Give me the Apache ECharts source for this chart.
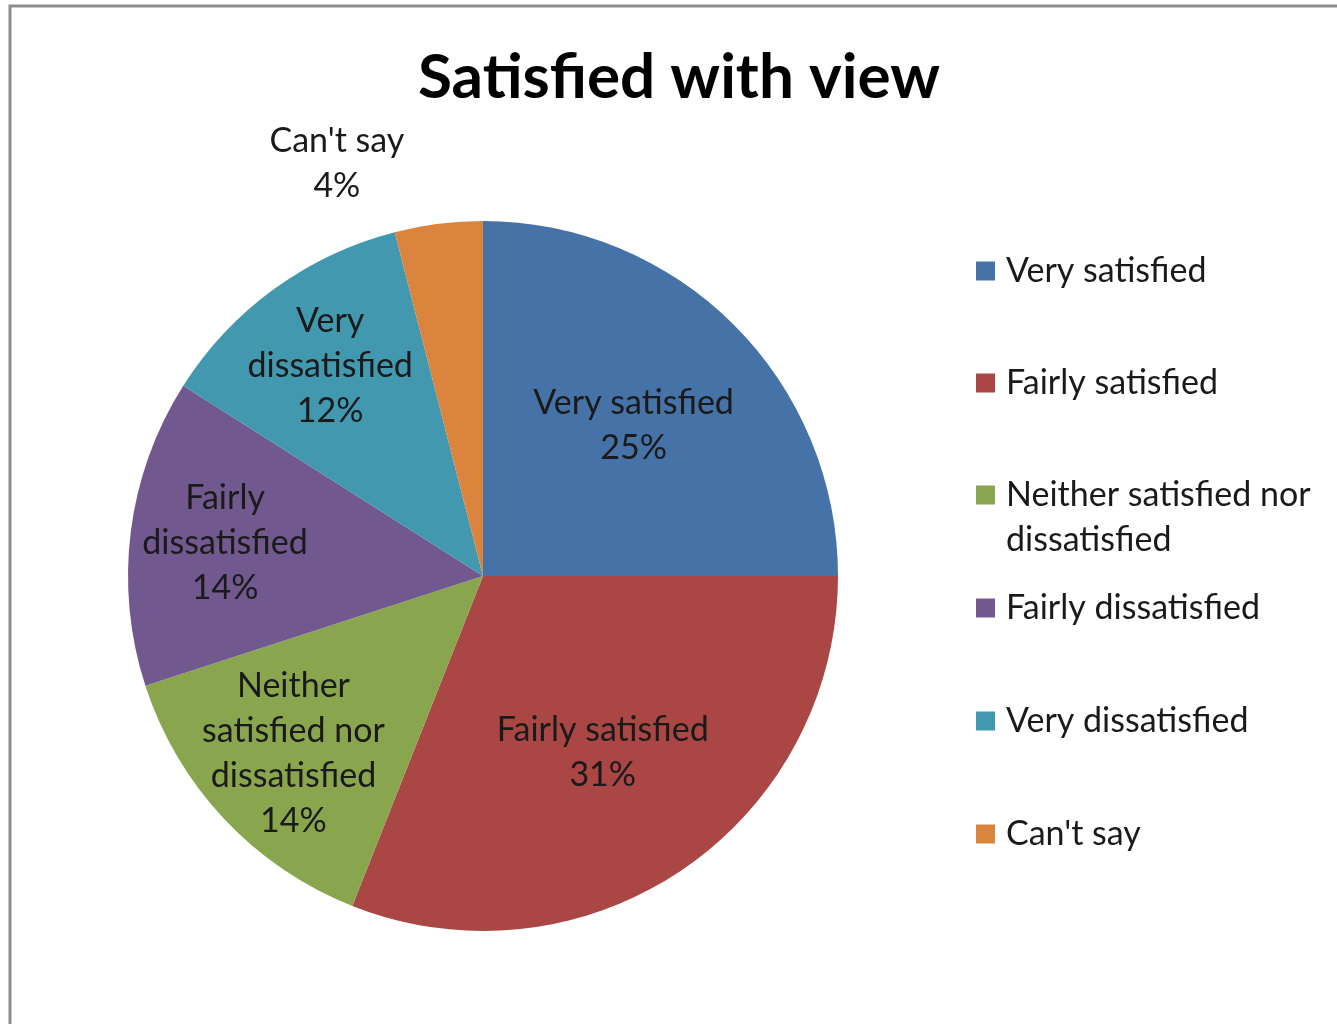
<!DOCTYPE html>
<html>
<head>
<meta charset="utf-8">
<title>Satisfied with view</title>
<script src="https://cdn.jsdelivr.net/npm/echarts@6/dist/echarts.min.js"></script>
<style>
  html, body { margin: 0; padding: 0; background: #ffffff; }
  #chart { width: 1337px; height: 1024px; }
</style>
</head>
<body>
<div id="chart"></div>
<script>
// Survey answers and their shares (percent)
const categories = ['Very satisfied', 'Fairly satisfied', 'Neither satisfied nor dissatisfied', 'Fairly dissatisfied', 'Very dissatisfied', "Can't say"];
const values = [25, 31, 14, 14, 12, 4];
// Wrapped wording used inside the slices
const sliceText = ['Very satisfied', 'Fairly satisfied', 'Neither\nsatisfied nor\ndissatisfied', 'Fairly\ndissatisfied', 'Very\ndissatisfied', "Can't say"];
// Legend wording; the leading blank line keeps the swatch beside the first line
const legendText = ['Very satisfied', 'Fairly satisfied', '\nNeither satisfied nor\ndissatisfied', 'Fairly dissatisfied', 'Very dissatisfied', "Can't say"];
const colors = ['#4572A7', '#AA4643', '#89A54E', '#71588F', '#4198AF', '#DB843D'];

const FONT = 'Lato';
const TXT = '#1a1a1a';
const FS = 34;
const CENTER = [483, 576];
const R = 355;

const chart = echarts.init(document.getElementById('chart'), null, { renderer: 'canvas' });

function pctLabel(p) {
  return sliceText[p.dataIndex] + '\n' + Math.round(p.percent) + '%';
}

// data for a transparent pie that only carries labels for the given slices
function labelData(which) {
  return categories.map((name, i) => ({
    name: name,
    value: values[i],
    itemStyle: { color: 'rgba(0,0,0,0)' },
    label: { show: which.indexOf(i) >= 0 }
  }));
}

const labelCommon = {
  position: 'inside',
  formatter: pctLabel,
  color: TXT,
  fontFamily: FONT,
  fontSize: FS,
  lineHeight: 45,
  align: 'center'
};

// one legend block per category so each entry sits on its own row
const legendRows = [271, 383, 495, 608, 721, 834];
const legends = categories.map((name, i) => {
  const lines = legendText[i].split('\n').length;
  return {
    orient: 'vertical',
    left: 976,
    top: legendRows[i] - lines * 22.5,
    padding: 0,
    itemWidth: 19,
    itemHeight: 19,
    itemGap: 0,
    icon: 'rect',
    selectedMode: false,
    formatter: () => legendText[i],
    data: [name],
    textStyle: { fontFamily: FONT, fontSize: FS, lineHeight: 45, color: TXT, padding: [0, 0, 0, 6] }
  };
});

const option = {
  backgroundColor: '#ffffff',
  color: colors,
  animation: false,
  title: {
    text: 'Satisfied with view',
    left: 418,
    top: 42,
    padding: 0,
    textStyle: { fontFamily: FONT, fontWeight: 'bold', fontSize: 62, color: '#000000', lineHeight: 72 }
  },
  legend: legends,
  graphic: [{
    type: 'rect',
    shape: { x: 10, y: 6, width: 1400, height: 1100 },
    style: { fill: 'none', stroke: '#8c8c8c', lineWidth: 3 },
    silent: true,
    z: -1
  }],
  series: [
    {
      type: 'pie',
      center: CENTER,
      radius: [0, R],
      startAngle: 90,
      clockwise: true,
      avoidLabelOverlap: false,
      itemStyle: { borderWidth: 0 },
      emphasis: { disabled: true },
      label: {
        show: true,
        position: 'outside',
        color: TXT,
        fontFamily: FONT,
        fontSize: FS,
        formatter: p => '{n|' + sliceText[p.dataIndex] + '}\n{n|' + Math.round(p.percent) + '%}',
        rich: { n: { width: 146, align: 'center', fontFamily: FONT, fontSize: FS, lineHeight: 45, color: TXT } }
      },
      labelLine: { show: false, length: 61, length2: 16 },
      data: categories.map((name, i) => ({
        name: name,
        value: values[i],
        label: { show: i === 5 }
      }))
    },
    // label carrier: upper-right slices, labels nearer the centre
    {
      type: 'pie',
      center: CENTER,
      radius: [0, 420],
      startAngle: 90,
      clockwise: true,
      silent: true,
      legendHoverLink: false,
      avoidLabelOverlap: false,
      emphasis: { disabled: true },
      label: labelCommon,
      labelLine: { show: false },
      data: labelData([0, 1])
    },
    // label carrier: left-hand slices
    {
      type: 'pie',
      center: CENTER,
      radius: [0, 514],
      startAngle: 90,
      clockwise: true,
      silent: true,
      legendHoverLink: false,
      avoidLabelOverlap: false,
      emphasis: { disabled: true },
      label: labelCommon,
      labelLine: { show: false },
      data: labelData([2, 3, 4])
    }
  ]
};

chart.setOption(option);
</script>
</body>
</html>
